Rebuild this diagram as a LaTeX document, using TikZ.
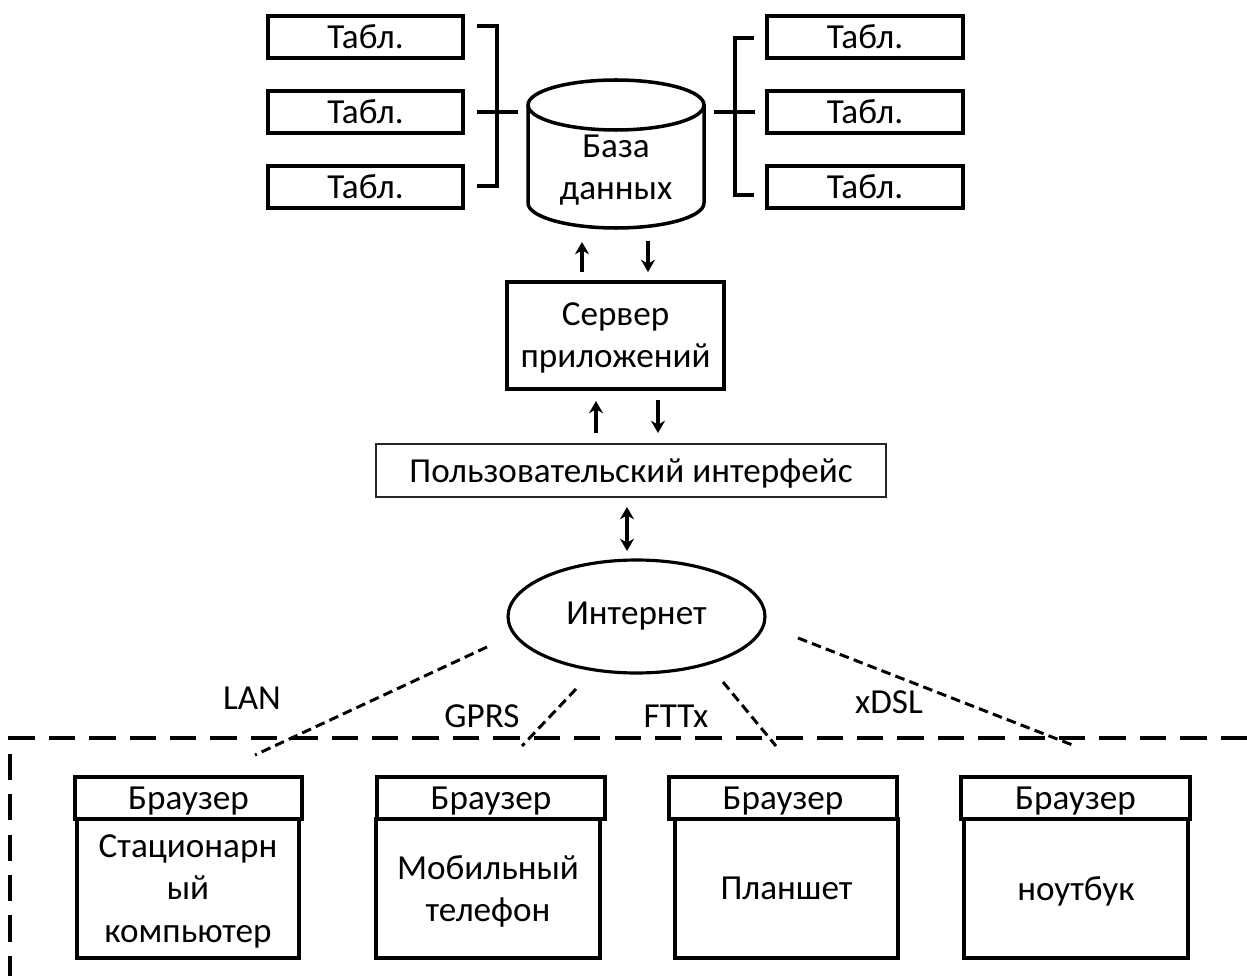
\documentclass[tikz,border=0pt]{standalone}
\usepackage{fontspec}
\setmainfont{Carlito}
\usetikzlibrary{shapes.geometric,arrows.meta}
\begin{document}
\begin{tikzpicture}[x=0.02cm,y=-0.02cm,
  every node/.style={font=\fontsize{20}{24}\selectfont, inner sep=0pt, align=center},
  box/.style={draw, line width=2pt, fill=white, text depth=0pt},
  ln/.style={line width=1.8pt},
  arr/.style={line width=1.8pt, -{Stealth[length=7pt,width=8pt]}},
  dsh/.style={line width=1.7pt, dash pattern=on 5.5pt off 3pt},
  bnd/.style={line width=1.8pt, dash pattern=on 15pt off 8pt}]
\useasboundingbox (0,0) rectangle (1247,976);

% tables left
\node[box, minimum width=3.9cm, minimum height=0.84cm] (tl1) at (365.5,37) {Табл.};
\node[box, minimum width=3.9cm, minimum height=0.84cm] (tl2) at (365.5,112) {Табл.};
\node[box, minimum width=3.9cm, minimum height=0.84cm] (tl3) at (365.5,187) {Табл.};
% tables right
\node[box, minimum width=3.92cm, minimum height=0.84cm] (tr1) at (865,37) {Табл.};
\node[box, minimum width=3.92cm, minimum height=0.84cm] (tr2) at (865,112) {Табл.};
\node[box, minimum width=3.92cm, minimum height=0.84cm] (tr3) at (865,187) {Табл.};

% brackets
\coordinate (lbt) at (477,26);
\coordinate (lbb) at (477,186);
\coordinate (lbm) at (477,112);
\coordinate (lbe) at (518,112);
\draw[ln] (lbt) -- (497,26) -- (497,186) -- (lbb);
\draw[ln] (lbm) -- (lbe);
\coordinate (rbt) at (754,38);
\coordinate (rbb) at (754,195);
\coordinate (rbm) at (755,112);
\coordinate (rbe) at (714,112);
\draw[ln] (rbt) -- (735,38) -- (735,195) -- (rbb);
\draw[ln] (rbe) -- (rbm);

% cylinder
\draw[line width=2pt, fill=white] (528,105) -- (528,203)
  arc[start angle=180, end angle=0, x radius=88, y radius=25] -- (704,105);
\draw[line width=2pt] (616,105) ellipse[x radius=88, y radius=25];
\node (db) at (616,170) {База\\данных};

% server
\node[box, minimum width=4.34cm, minimum height=2.14cm] (srv) at (615.5,335.5) {Сервер\\приложений};
\coordinate (u1s) at (582,272);
\coordinate (u1e) at (582,242);
\coordinate (d1s) at (648,241);
\coordinate (d1e) at (648,272);
\draw[arr] (u1s) -- (u1e);
\draw[arr] (d1s) -- (d1e);

% UI
\node[box, line width=1.6pt, draw=black!85, minimum width=10.2cm, minimum height=1.06cm] (ui) at (631,470.5) {Пользовательский интерфейс};
\coordinate (u2s) at (596,433);
\coordinate (u2e) at (596,401);
\coordinate (d2s) at (658,400);
\coordinate (d2e) at (658,433);
\draw[arr] (u2s) -- (u2e);
\draw[arr] (d2s) -- (d2e);

% internet
\node[draw, ellipse, line width=1.8pt, minimum width=5.14cm, minimum height=2.26cm] (inet) at (636.5,616.5) {Интернет};
\coordinate (b1) at (627,507);
\coordinate (b2) at (627,551);
\draw[line width=1.8pt, {Stealth[length=7pt,width=8pt]}-{Stealth[length=7pt,width=8pt]}] (b1) -- (b2);

% boundary
\coordinate (bx1) at (1247,738);
\coordinate (bx0) at (10,738);
\coordinate (by1) at (10,976);
\draw[bnd] (bx1) -- (bx0) -- (by1);

% links
\coordinate (l1s) at (487,647); \coordinate (l1e) at (255,755);
\coordinate (l2s) at (576,689); \coordinate (l2e) at (522,746);
\coordinate (l3s) at (723,682); \coordinate (l3e) at (776,746);
\coordinate (l4s) at (798,638); \coordinate (l4e) at (1075,746);
\draw[dsh] (l1s) -- (l1e);
\draw[dsh] (l2s) -- (l2e);
\draw[dsh] (l3s) -- (l3e);
\draw[dsh] (l4s) -- (l4e);
\node (lan) at (252,698) {LAN};
\node (gprs) at (482,716) {GPRS};
\node (fttx) at (676,716) {FTTx};
\node (xdsl) at (889,702) {xDSL};

% devices
\node[box, minimum width=4.44cm, minimum height=2.78cm] (c1) at (188,888.5) {Стационарн\\ый\\компьютер};
\node[box, minimum width=4.54cm, minimum height=0.84cm] (h1) at (188.5,798) {Браузер};
\node[box, minimum width=4.48cm, minimum height=2.78cm] (c2) at (488,888.5) {Мобильный\\телефон};
\node[box, minimum width=4.56cm, minimum height=0.84cm] (h2) at (491,798) {Браузер};
\node[box, minimum width=4.46cm, minimum height=2.78cm] (c3) at (786.5,888.5) {Планшет};
\node[box, minimum width=4.56cm, minimum height=0.84cm] (h3) at (783,798) {Браузер};
\node[box, minimum width=4.48cm, minimum height=2.78cm] (c4) at (1076,888.5) {ноутбук};
\node[box, minimum width=4.58cm, minimum height=0.84cm] (h4) at (1075.5,798) {Браузер};
\end{tikzpicture}
\end{document}
